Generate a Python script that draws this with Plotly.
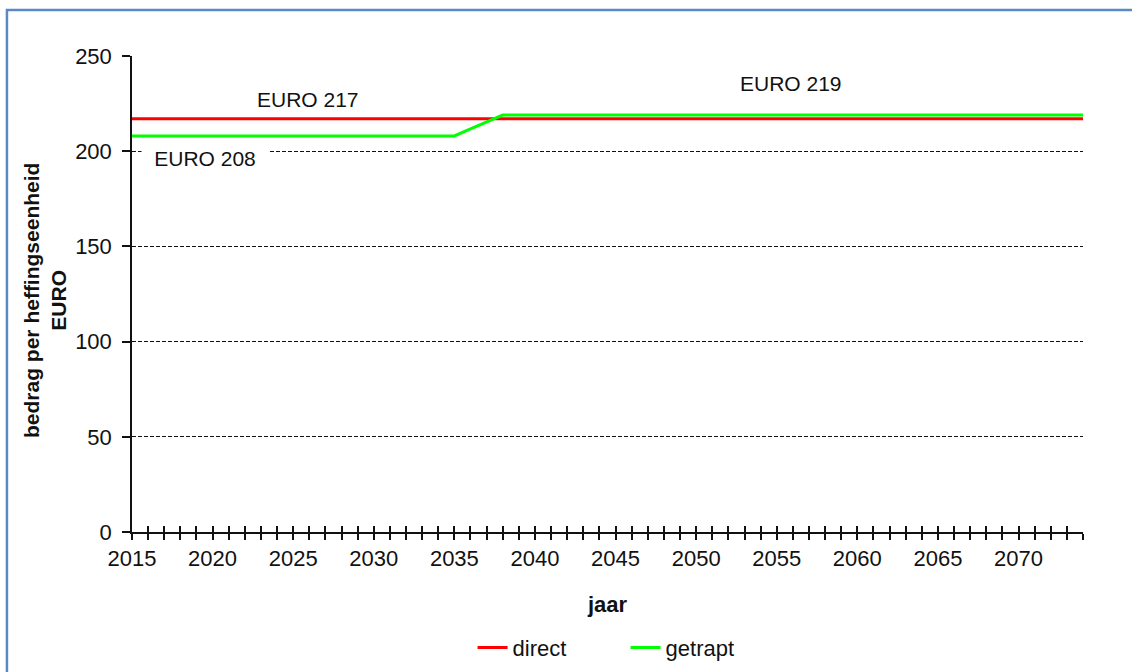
import plotly.graph_objects as go

# Jaren en bedragen per heffingseenheid (EURO)
jaren = list(range(2015, 2075))
direct = [217] * 60
getrapt = [208] * 21 + [211.7, 215.3] + [219] * 37

y_ticks = [0, 50, 100, 150, 200, 250]
x_labels = [str(j) if (j - 2015) % 5 == 0 else "" for j in jaren]

FONT = "Liberation Sans, Arial, sans-serif"

fig = go.Figure()
fig.add_trace(go.Scatter(x=jaren, y=direct, mode="lines", name="direct",
                         line=dict(color="#FF0000", width=3)))
fig.add_trace(go.Scatter(x=jaren, y=getrapt, mode="lines", name="getrapt",
                         line=dict(color="#00FF00", width=3)))
# onzichtbare hulplijn voor de tweede x-as (binnenste tickstreepjes)
fig.add_trace(go.Scatter(x=jaren, y=direct, xaxis="x2", mode="lines",
                         line=dict(width=0), opacity=0, showlegend=False,
                         hoverinfo="skip"))

fig.update_layout(
    width=1132, height=672,
    margin=dict(l=132, r=49, t=56, b=140, autoexpand=False),
    paper_bgcolor="white", plot_bgcolor="white",
    font=dict(family=FONT, size=21, color="#111111"),
    showlegend=True,
    legend=dict(orientation="h", x=0.519, y=0.036, xref="paper",
                yref="container", xanchor="center", yanchor="middle",
                font=dict(size=22), entrywidth=108,
                bgcolor="rgba(0,0,0,0)"),
    xaxis=dict(range=[2015, 2074], tickmode="array", tickvals=jaren,
               ticktext=x_labels, ticks="outside", ticklen=6, tickwidth=1.5,
               tickcolor="#111111", showline=True, linecolor="#111111",
               linewidth=1.5, showgrid=False, zeroline=False,
               tickfont=dict(size=22), automargin=False,
               title=dict(text="<b>jaar</b>", font=dict(size=22), standoff=26)),
    xaxis2=dict(range=[2015, 2074], overlaying="x", anchor="y", side="bottom",
                tickmode="array", tickvals=jaren, ticktext=[""] * len(jaren),
                ticks="inside", ticklen=6, tickwidth=1.5, tickcolor="#111111",
                showline=False, showgrid=False, zeroline=False),
    yaxis=dict(range=[0, 250], tickmode="array", tickvals=y_ticks,
               ticks="outside", ticklen=8, tickwidth=1.5, tickcolor="#111111",
               showline=True, linecolor="#111111", linewidth=1.5,
               showgrid=True, gridcolor="#111111", gridwidth=1.4,
               griddash="4px,2px", zeroline=False, tickfont=dict(size=22),
               ticklabelstandoff=6, automargin=False),
)

fig.add_annotation(text="<b>bedrag per heffingseenheid<br>EURO</b>",
                   xref="paper", yref="paper", x=-0.0915, y=0.5,
                   xanchor="center", yanchor="middle", yshift=-6,
                   textangle=-90, showarrow=False, font=dict(size=21))

fig.add_annotation(text="EURO 217", x=2025.9, y=226.9, showarrow=False,
                   font=dict(size=21))
fig.add_annotation(text="EURO 219", x=2055.9, y=235.3, showarrow=False,
                   font=dict(size=21))
fig.add_annotation(text="EURO 208", x=2019.5, y=196.4, showarrow=False,
                   font=dict(size=21), bgcolor="white", width=124)

# kaderlijn van het grafiekgebied
fig.add_shape(type="rect", xref="paper", yref="paper",
              x0=-0.1315, y0=-0.5, x1=1.2, y1=1.0966,
              line=dict(color="#5A8AC6", width=2.5), layer="below")

fig.write_html("out.html")
